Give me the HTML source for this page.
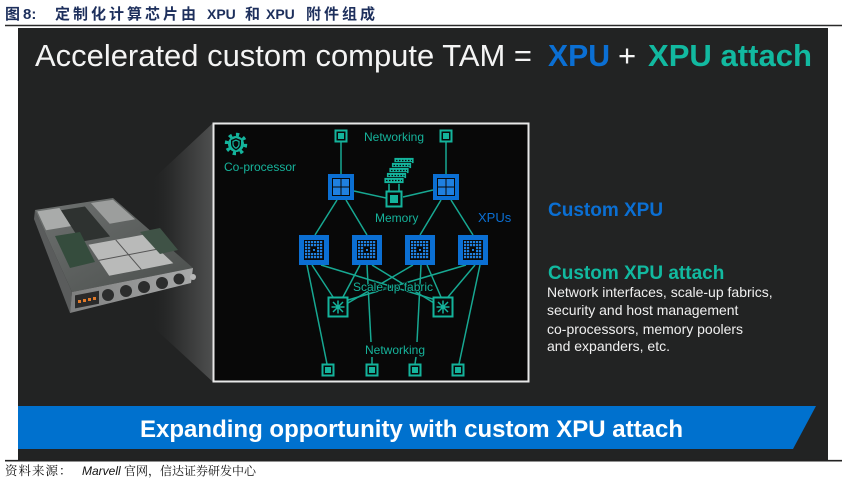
<!DOCTYPE html>
<html><head><meta charset="utf-8">
<style>
html,body{margin:0;padding:0;background:#fff;width:848px;height:485px;overflow:hidden;}
svg{display:block;}
.lat{font-family:"Liberation Sans",Arial,sans-serif;}
.cjk{font-family:"Liberation Sans","Noto Sans CJK SC",sans-serif;}
.cjks{font-family:"Liberation Serif","Noto Serif CJK SC",serif;}
</style></head>
<body>
<svg width="848" height="485" viewBox="0 0 848 485" xmlns="http://www.w3.org/2000/svg">
<defs>
  <linearGradient id="wedge" x1="0" y1="0" x2="1" y2="0">
    <stop offset="0" stop-color="#242525" stop-opacity="0"/>
    <stop offset="0.35" stop-color="#2c2d2d"/>
    <stop offset="1" stop-color="#4e4f4f"/>
  </linearGradient>
  <linearGradient id="topface" x1="0" y1="0" x2="1" y2="1">
    <stop offset="0" stop-color="#6f7271"/>
    <stop offset="1" stop-color="#4a4e4c"/>
  </linearGradient>
  <linearGradient id="front" x1="0" y1="0" x2="1" y2="0">
    <stop offset="0" stop-color="#7d7e7e"/>
    <stop offset="1" stop-color="#a9aaaa"/>
  </linearGradient>
  <pattern id="grid" x="0" y="0" width="3" height="3" patternUnits="userSpaceOnUse">
    <rect x="0" y="0" width="2.2" height="2.2" fill="#1f80e0"/>
  </pattern>
</defs>

<!-- title -->
<text x="5" y="19" class="cjk" font-size="15" font-weight="700" fill="#1d2f5c">图</text>
<text x="23" y="19" class="lat" font-size="15" font-weight="700" fill="#1d2f5c">8:</text>
<text x="55" y="19" class="cjk" font-size="15" font-weight="700" fill="#1d2f5c" letter-spacing="3">定制化计算芯片由</text>
<text x="207" y="19" class="lat" font-size="14" font-weight="700" fill="#1d2f5c">XPU</text>
<text x="245" y="19" class="cjk" font-size="15" font-weight="700" fill="#1d2f5c">和</text>
<text x="266" y="19" class="lat" font-size="14" font-weight="700" fill="#1d2f5c">XPU</text>
<text x="306" y="19" class="cjk" font-size="15" font-weight="700" fill="#1d2f5c" letter-spacing="3">附件组成</text>
<line x1="5" y1="25.5" x2="842" y2="25.5" stroke="#2a2a2a" stroke-width="1.5"/>

<!-- dark panel -->
<rect x="18" y="28" width="810" height="432" fill="#222323"/>
<line x1="5" y1="460.7" x2="842" y2="460.7" stroke="#222" stroke-width="1.6"/>

<!-- heading -->
<text x="35" y="66" class="lat" font-size="31" fill="#f4f4f4" textLength="497" lengthAdjust="spacingAndGlyphs">Accelerated custom compute TAM =</text>
<text x="548" y="66" class="lat" font-size="31" font-weight="700" fill="#0b6fd3" textLength="62" lengthAdjust="spacingAndGlyphs">XPU</text>
<text x="618" y="66" class="lat" font-size="31" fill="#f4f4f4">+</text>
<text x="648" y="66" class="lat" font-size="31" font-weight="700" fill="#12b9a0" textLength="164" lengthAdjust="spacingAndGlyphs">XPU attach</text>

<!-- projection wedge -->
<polygon points="213,123 213,382 152,326 152,180" fill="url(#wedge)"/>

<!-- server -->
<polygon points="35,210 72,292 70,313 34,219" fill="#5a5c5c"/>
<polygon points="35,210 113,198 193,268 72,292" fill="url(#topface)"/>
<polygon points="60.9,210.3 84.9,206.5 110.1,236.5 80.9,241.8" fill="#2e3230"/>
<polygon points="37.3,211.4 59.4,208 70.9,226.1 46,230.2" fill="#a9abaa"/>
<polygon points="90.9,203 113,199.7 135.1,219.3 109.7,223.7" fill="#9c9e9d"/>
<polygon points="55,236 80,232 95,262 70,268" fill="#354c3d"/>
<polygon points="88.4,244.8 143.1,234.8 173.3,263.3 109.2,275.8" fill="#b9bab9"/>
<line x1="115.7" y1="239.8" x2="141.3" y2="269.6" stroke="#555" stroke-width="1"/>
<line x1="98.8" y1="260.4" x2="158.2" y2="249" stroke="#555" stroke-width="1"/>
<polygon points="140,232 160,228 178,250 160,254" fill="#3f5246"/>
<polygon points="72,292 193,268 191,283 70,313" fill="url(#front)"/>
<rect x="75" y="295" width="24" height="13" fill="#2a2a2a" transform="skewY(-11) translate(0,15)"/>
<g fill="#e07a2a">
  <rect x="78" y="300" width="3" height="3"/><rect x="83" y="299" width="3" height="3"/>
  <rect x="88" y="298" width="3" height="3"/><rect x="93" y="297" width="3" height="3"/>
</g>
<g fill="#2c2d2d">
  <circle cx="108" cy="295" r="6"/><circle cx="126" cy="291" r="6"/>
  <circle cx="144" cy="287" r="6"/><circle cx="162" cy="283" r="6"/><circle cx="179" cy="279" r="5.5"/>
</g>
<circle cx="193" cy="277" r="3" fill="#b8b8b8"/>

<!-- diagram box -->
<rect x="213.5" y="123.5" width="315" height="258" fill="#080808" stroke="#e8e8e8" stroke-width="2"/>

<!-- connectors -->
<g stroke="#17a892" stroke-width="1.5" fill="none">
  <path d="M341,142 V174"/>
  <path d="M446,142 V174"/>
  <path d="M354,191 L386,198"/>
  <path d="M433,190 L403,197"/>
  <path d="M337,200 L315,235"/>
  <path d="M346,200 L367,235"/>
  <path d="M441,200 L420,235"/>
  <path d="M451,200 L473,235"/>
  <path d="M312,265 L333,297"/>
  <path d="M321,265 L436,300"/>
  <path d="M360,265 L343,297"/>
  <path d="M372,265 L434,303"/>
  <path d="M413,265 L348,303"/>
  <path d="M427,265 L441,297"/>
  <path d="M466,265 L348,300"/>
  <path d="M475,265 L448,297"/>
  <path d="M307,265 L327,364"/>
  <path d="M367,265 L371,342"/>
  <path d="M372,357 L372,364"/>
  <path d="M421,265 L417,342"/>
  <path d="M416,357 L415,364"/>
  <path d="M480,265 L459,364"/>
</g>

<!-- gear icon -->
<g transform="translate(236,144)">
  <circle r="9.5" fill="none" stroke="#14b49c" stroke-width="3.5" stroke-dasharray="3.3 4.1"/>
  <circle r="8" fill="#14b49c"/>
  <path d="M0,-6 L5,-4 V0 Q5,4 0,6.5 Q-5,4 -5,0 V-4 Z" fill="#080808"/>
  <path d="M0,-3.8 L3,-2.6 V0 Q3,2.6 0,4.2 Q-3,2.6 -3,0 V-2.6 Z" fill="none" stroke="#14b49c" stroke-width="1.2"/>
</g>

<!-- network nodes -->
<g>
  <g transform="translate(341,136)"><rect x="-6.5" y="-6.5" width="13" height="13" fill="#14b49c"/><rect x="-4.5" y="-4.5" width="9" height="9" fill="#080808"/><rect x="-3" y="-3" width="6" height="6" fill="#14b49c"/></g>
  <g transform="translate(446,136)"><rect x="-6.5" y="-6.5" width="13" height="13" fill="#14b49c"/><rect x="-4.5" y="-4.5" width="9" height="9" fill="#080808"/><rect x="-3" y="-3" width="6" height="6" fill="#14b49c"/></g>
  <g transform="translate(328,370)"><rect x="-6.5" y="-6.5" width="13" height="13" fill="#14b49c"/><rect x="-4.5" y="-4.5" width="9" height="9" fill="#080808"/><rect x="-3" y="-3" width="6" height="6" fill="#14b49c"/></g>
  <g transform="translate(372,370)"><rect x="-6.5" y="-6.5" width="13" height="13" fill="#14b49c"/><rect x="-4.5" y="-4.5" width="9" height="9" fill="#080808"/><rect x="-3" y="-3" width="6" height="6" fill="#14b49c"/></g>
  <g transform="translate(415,370)"><rect x="-6.5" y="-6.5" width="13" height="13" fill="#14b49c"/><rect x="-4.5" y="-4.5" width="9" height="9" fill="#080808"/><rect x="-3" y="-3" width="6" height="6" fill="#14b49c"/></g>
  <g transform="translate(458,370)"><rect x="-6.5" y="-6.5" width="13" height="13" fill="#14b49c"/><rect x="-4.5" y="-4.5" width="9" height="9" fill="#080808"/><rect x="-3" y="-3" width="6" height="6" fill="#14b49c"/></g>
</g>

<!-- top XPUs -->
<g transform="translate(328,174)">
  <rect width="26" height="26" fill="#0b6fd3"/><rect x="4" y="4" width="18" height="18" fill="#080808"/>
  <rect x="5" y="5" width="7.5" height="7.5" fill="#1f80e0"/><rect x="13.5" y="5" width="7.5" height="7.5" fill="#1f80e0"/>
  <rect x="5" y="13.5" width="7.5" height="7.5" fill="#1f80e0"/><rect x="13.5" y="13.5" width="7.5" height="7.5" fill="#1f80e0"/>
</g>
<g transform="translate(433,174)">
  <rect width="26" height="26" fill="#0b6fd3"/><rect x="4" y="4" width="18" height="18" fill="#080808"/>
  <rect x="5" y="5" width="7.5" height="7.5" fill="#1f80e0"/><rect x="13.5" y="5" width="7.5" height="7.5" fill="#1f80e0"/>
  <rect x="5" y="13.5" width="7.5" height="7.5" fill="#1f80e0"/><rect x="13.5" y="13.5" width="7.5" height="7.5" fill="#1f80e0"/>
</g>

<!-- lower XPUs -->
<g transform="translate(299,235)"><rect width="30" height="30" fill="#0b6fd3"/><rect x="5" y="5" width="20" height="20" fill="#080808"/><rect x="6" y="6" width="18" height="18" fill="url(#grid)"/><rect x="12" y="12" width="6" height="6" fill="#080808"/><rect x="14" y="14" width="2" height="2" fill="#1f80e0"/></g>
<g transform="translate(352,235)"><rect width="30" height="30" fill="#0b6fd3"/><rect x="5" y="5" width="20" height="20" fill="#080808"/><rect x="6" y="6" width="18" height="18" fill="url(#grid)"/><rect x="12" y="12" width="6" height="6" fill="#080808"/><rect x="14" y="14" width="2" height="2" fill="#1f80e0"/></g>
<g transform="translate(405,235)"><rect width="30" height="30" fill="#0b6fd3"/><rect x="5" y="5" width="20" height="20" fill="#080808"/><rect x="6" y="6" width="18" height="18" fill="url(#grid)"/><rect x="12" y="12" width="6" height="6" fill="#080808"/><rect x="14" y="14" width="2" height="2" fill="#1f80e0"/></g>
<g transform="translate(458,235)"><rect width="30" height="30" fill="#0b6fd3"/><rect x="5" y="5" width="20" height="20" fill="#080808"/><rect x="6" y="6" width="18" height="18" fill="url(#grid)"/><rect x="12" y="12" width="6" height="6" fill="#080808"/><rect x="14" y="14" width="2" height="2" fill="#1f80e0"/></g>

<!-- memory -->
<g>
  <line x1="389" y1="180" x2="389" y2="191" stroke="#14b49c" stroke-width="1.5"/>
  <line x1="399" y1="180" x2="399" y2="191" stroke="#14b49c" stroke-width="1.5"/>
  <g fill="#14b49c" stroke="#080808" stroke-width="0.8">
    <rect x="394" y="157.5" width="20" height="6"/>
    <rect x="391.5" y="162.5" width="20" height="6"/>
    <rect x="389" y="167.5" width="20" height="6"/>
    <rect x="386.5" y="172.5" width="20" height="6"/>
    <rect x="384" y="177.5" width="20" height="6"/>
  </g>
  <g stroke="#080808" stroke-width="1.2" stroke-dasharray="1.5 1.5">
    <line x1="396" y1="160.5" x2="412" y2="160.5"/>
    <line x1="393.5" y1="165.5" x2="409.5" y2="165.5"/>
    <line x1="391" y1="170.5" x2="407" y2="170.5"/>
    <line x1="388.5" y1="175.5" x2="404.5" y2="175.5"/>
    <line x1="386" y1="180.5" x2="402" y2="180.5"/>
  </g>
  <rect x="385.5" y="190.5" width="17" height="17" fill="#14b49c"/>
  <rect x="387.5" y="192.5" width="13" height="13" fill="#080808"/>
  <rect x="390" y="195" width="8" height="8" fill="#14b49c"/>
</g>

<!-- switches -->
<g transform="translate(338,307)">
  <rect x="-10.5" y="-10.5" width="21" height="21" fill="#14b49c"/><rect x="-8.5" y="-8.5" width="17" height="17" fill="#080808"/>
  <g stroke="#14b49c" stroke-width="1.5"><line x1="-6.5" y1="0" x2="6.5" y2="0"/><line x1="0" y1="-6.5" x2="0" y2="6.5"/><line x1="-5" y1="-5" x2="5" y2="5"/><line x1="-5" y1="5" x2="5" y2="-5"/></g>
  <rect x="-2" y="-2" width="4" height="4" fill="#14b49c"/>
</g>
<g transform="translate(443,307)">
  <rect x="-10.5" y="-10.5" width="21" height="21" fill="#14b49c"/><rect x="-8.5" y="-8.5" width="17" height="17" fill="#080808"/>
  <g stroke="#14b49c" stroke-width="1.5"><line x1="-6.5" y1="0" x2="6.5" y2="0"/><line x1="0" y1="-6.5" x2="0" y2="6.5"/><line x1="-5" y1="-5" x2="5" y2="5"/><line x1="-5" y1="5" x2="5" y2="-5"/></g>
  <rect x="-2" y="-2" width="4" height="4" fill="#14b49c"/>
</g>

<!-- diagram labels -->
<g class="lat" font-size="12" fill="#16b39b">
  <text x="224" y="171">Co-processor</text>
  <text x="364" y="141">Networking</text>
  <text x="375" y="222">Memory</text>
  <text x="353" y="291" stroke="#080808" stroke-width="1.5" paint-order="stroke">Scale-up fabric</text>
  <text x="365" y="354">Networking</text>
</g>
<text x="478" y="222" class="lat" font-size="13" fill="#0b6fd3">XPUs</text>

<!-- right column -->
<text x="548" y="216" class="lat" font-size="19" font-weight="700" fill="#0b6fd3">Custom XPU</text>
<text x="548" y="279" class="lat" font-size="19" font-weight="700" fill="#12b9a0">Custom XPU attach</text>
<g class="lat" font-size="14" fill="#f0f0f0">
  <text x="547" y="297">Network interfaces, scale-up fabrics,</text>
  <text x="547" y="315">security and host management</text>
  <text x="547" y="334">co-processors, memory poolers</text>
  <text x="547" y="351">and expanders, etc.</text>
</g>

<!-- banner -->
<polygon points="18,406 816,406 793,449 18,449" fill="#0071ce"/>
<text x="140" y="437" class="lat" font-size="24" font-weight="700" fill="#ffffff" textLength="543" lengthAdjust="spacingAndGlyphs">Expanding opportunity with custom XPU attach</text>

<!-- source -->
<text x="5" y="475" class="cjks" font-size="12.5" fill="#111" letter-spacing="1">资料来源：</text>
<text x="82" y="475" class="lat" font-size="12" font-style="italic" fill="#111">Marvell</text>
<text x="124" y="475" class="cjks" font-size="12" fill="#111">官网，信达证券研发中心</text>
</svg>
</body></html>
